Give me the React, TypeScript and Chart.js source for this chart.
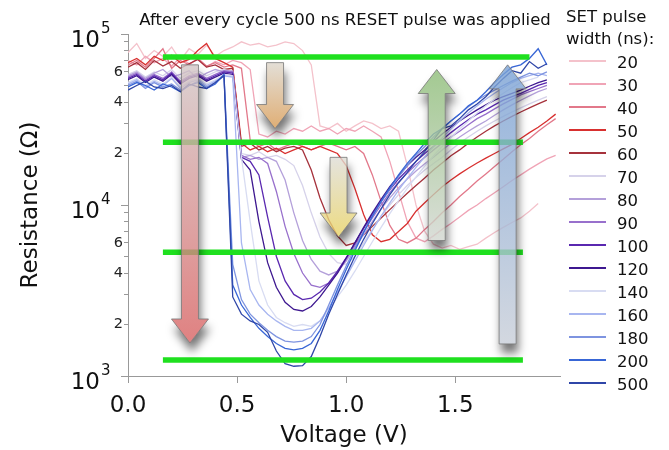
import { useEffect, useRef } from 'react';
import { Chart, registerables } from 'chart.js';

Chart.register(...registerables);

const FONT = '"DejaVu Sans", sans-serif';

// ---------- data ----------
const voltages = [0, 0.04, 0.08, 0.12, 0.16, 0.2, 0.24, 0.28, 0.32, 0.36, 0.4, 0.44, 0.48, 0.52, 0.56, 0.6, 0.64, 0.68, 0.72, 0.76, 0.8, 0.84, 0.88, 0.92, 0.96, 1.0, 1.04, 1.08, 1.12, 1.16, 1.2, 1.24, 1.28, 1.32, 1.36, 1.4, 1.44, 1.48, 1.52, 1.56, 1.6, 1.64, 1.68, 1.72, 1.76, 1.8, 1.84, 1.88, 1.92, 1.96];

const pulseWidths = ['20', '30', '40', '50', '60', '70', '80', '90', '100', '120', '140', '160', '180', '200', '500'];

const seriesColors = ['#f4c2cb', '#f0a4b6', '#e2788a', '#d8302f', '#a6323c', '#d6d2ea', '#b4a0da', '#9870cc', '#5a28b0', '#3e1890', '#d8dcf2', '#a8b6f0', '#7e94e0', '#3866d6', '#2f46a8'];

// resistance in kOhm, one value per voltage
const r20 = [78, 88, 72, 80, 74, 84, 70, 82, 76, 86, 74, 80, 84, 90, 86, 88, 84, 86, 90, 88, 80, 66, 29, 28, 30, 27, 29, 31, 30, 28, 29, 27, 17, 10, 7, 5.9, 5.6, 5.8, 5.5, 5.7, 5.9, 6.4, 6.9, 7.4, 7.9, 8.4, 9.2, 10.2, null, null];
const r30 = [70, 66, 74, 68, 72, 65, 73, 67, 71, 64, 69, 66, 70, 68, 62, 26, 25, 27, 26, 28, 27, 29, 27, 28, 26, 28, 27, 29, 27, 25, 18, 12, 8, 6.4, 6.1, 6.6, 7.2, 7.8, 8.5, 9.3, 10, 10.9, 11.8, 12.8, 13.9, 15, 16.2, 17.4, 18.6, 19.5];
const r40 = [66, 70, 64, 72, 82, 63, 70, 66, 72, 65, 68, 64, 66, 63, 24, 22, 23, 21, 22, 23, 22, 21, 22, 23, 22, 21, 22, 20, 15, 10.5, 7.6, 6.3, 6.0, 6.4, 7.2, 8.0, 9.0, 10.0, 11.2, 12.4, 13.8, 15.2, 16.8, 18.5, 20.5, 22.5, 24.5, 27, 29.5, 32];
const r50 = [68, 72, 66, 74, 70, 75, 68, 71, 80, 88, 72, 68, 64, 23, 21, 22, 20.5, 21.5, 20, 21, 22, 21, 22, 21, 20, 17, 12.5, 8.8, 6.7, 6.1, 6.3, 7.0, 7.8, 9.2, 10.3, 11.5, 12.8, 14, 15.2, 16.4, 17.6, 18.8, 20, 21.3, 22.6, 24.5, 26.5, 28.5, 31, 34];
const r60 = [64, 68, 62, 70, 65, 69, 63, 67, 71, 64, 66, 62, 63, 22, 23, 21, 22, 20.5, 21.5, 22, 21, 16, 11, 8.2, 6.6, 5.8, 6.0, 6.7, 7.5, 8.4, 9.4, 10.5, 11.7, 13, 14.4, 16, 17.6, 19.4, 21, 23, 25, 27, 29, 31, 33, 35, 37, 39, 41, null];
const p70 = [58, 61, 56, 60, 57, 62, 55, 59, 61, 57, 60, 62, 60, 20, 19.5, 20.5, 19, 19.5, 18.5, 17, 13, 9, 6.5, 5.2, 4.6, 4.5, 5.0, 6.0, 7.2, 8.6, 10, 11.5, 13, 14.5, 16, 17.5, 19, 21, 23, 25, 27, 29, 31, 33, 35, 37, 39, 41, 43, null];
const p80 = [57, 60, 55, 59, 62, 56, 58, 61, 55, 59, 62, 60, 61, 19, 19.5, 18.5, 19, 18, 14, 9, 6.2, 4.8, 4.1, 3.9, 4.1, 4.7, 5.6, 6.7, 8.0, 9.5, 11, 12.6, 14.2, 15.8, 17.4, 19, 21, 23, 25, 27, 29, 31, 33.5, 36, 38.5, 41, 43.5, 46, 48, null];
const p90 = [56, 59, 54, 58, 55, 60, 53, 57, 59, 55, 58, 61, 60, 19.5, 18.5, 19, 17.5, 12, 7.5, 5.2, 4.0, 3.4, 3.3, 3.5, 4.0, 4.8, 5.8, 7.0, 8.4, 10, 11.8, 13.6, 15.4, 17.2, 19, 21, 23, 25, 27, 29.5, 32, 34, 36.5, 39, 41.5, 44, 46, 48, 50, null];
const p100 = [55, 58, 53, 57, 54, 59, 52, 56, 58, 54, 57, 60, 59, 19, 18, 15, 8.5, 5.0, 3.6, 3.0, 2.8, 2.85, 3.1, 3.5, 4.1, 4.9, 6, 7.3, 8.8, 10.5, 12.3, 14.2, 16, 18, 20, 22, 24, 26.5, 29, 31.5, 34, 36, 38.5, 41, 43, 45, 47.5, 50, 52, null];
const p120 = [54, 57, 52, 56, 53, 58, 51, 55, 57, 53, 56, 59, 58, 18.5, 16, 8, 4.6, 3.3, 2.7, 2.45, 2.4, 2.55, 2.9, 3.4, 4.0, 4.9, 6, 7.4, 9, 10.8, 12.8, 14.8, 17, 19, 21, 23.5, 26, 28.5, 31, 33.5, 36, 38.5, 41, 43, 45, 47, 49.5, 52, 54, null];
const b140 = [52, 55, 50, 54, 51, 56, 49, 53, 55, 51, 54, 58, 57, 19, 8, 3.6, 2.6, 2.2, 2.05, 1.95, 2.0, 1.95, 2.1, 2.4, 2.9, 3.4, 4.1, 5.0, 6.1, 7.4, 8.9, 10.6, 12.5, 14.6, 16.9, 19.4, 22, 24.8, 27.8, 31, 34.5, 38, 41.5, 45, 48.5, 52, 54, 56, null, null];
const b160 = [51, 54, 49, 53, 50, 55, 48, 52, 54, 50, 53, 57, 56, 6, 3.2, 2.6, 2.3, 2.1, 1.95, 1.85, 1.85, 1.9, 2.1, 2.5, 3.1, 3.8, 4.7, 5.8, 7.1, 8.6, 10.3, 12.2, 14.3, 16.6, 19.1, 21.8, 24.7, 27.8, 31, 34.5, 38, 41.5, 45, 48.5, 52, 55, 57, 59, 57, null];
const b180 = [50, 53, 48, 52, 49, 51, 47, 50, 53, 49, 52, 57, 4.5, 2.8, 2.3, 2.05, 1.85, 1.7, 1.6, 1.58, 1.6, 1.7, 2.0, 2.6, 3.4, 4.4, 5.6, 7.0, 8.6, 10.4, 12.4, 14.6, 17, 19.5, 22, 25, 28, 31, 34, 37.5, 41, 44, 47, 50, 53, 56, 59, 57, 60, null];
const b200 = [49, 52, 50, 47, 51, 49, 46, 50, 52, 48, 51, 58, 3.4, 2.6, 2.2, 1.9, 1.7, 1.55, 1.45, 1.42, 1.45, 1.55, 1.85, 2.4, 3.2, 4.2, 5.4, 6.9, 8.6, 10.5, 12.6, 15, 17.5, 20, 23, 26, 28, 31, 34, 38, 41, 46, 52, 58, 64, 66, 72, 82, 66, null];
const b500 = [47, 50, 53, 49, 48, 50, 46, 51, 49, 48, 52, 57, 2.9, 2.3, 2.1, 2.0, 1.8, 1.4, 1.18, 1.14, 1.15, 1.3, 1.7, 2.3, 3.0, 3.9, 5.0, 6.3, 7.8, 9.5, 11.5, 13.5, 15.5, 18, 20.5, 24, 28, 29, 32, 36, 39, 43, 49, 55, 61, 59, 69, 63, 67, null];

const seriesValues = [r20, r30, r40, r50, r60, p70, p80, p90, p100, p120, b140, b160, b180, b200, b500];

// green reference levels (Ohm) and their voltage extents
const greenLevels = [73300, 23300, 5300, 1240];
const greenStartV = [0.16, 0.16, 0.16, 0.16];
const greenEndV = [1.84, 1.81, 1.81, 1.81];

// annotation arrows (voltage, tail resistance, tip resistance)
const arrowV = [0.284, 0.674, 0.965, 1.415, 1.74];
const arrowTailR = [66000, 68000, 19000, 6200, 1540];
const arrowTipR = [1560, 28000, 6500, 62000, 66000];
const arrowTailColors = ['#d2c6c6', '#dcd6cc', '#dedcd6', '#d2d6d0', '#c8ced8'];
const arrowTipColors = ['#d86262', '#d89a52', '#e8d262', '#8cbc76', '#78a0d4'];

// ticks
const xTickValues = [0, 0.5, 1.0, 1.5];
const yTickValues = [1000, 2000, 3000, 4000, 5000, 6000, 7000, 8000, 9000, 10000, 20000, 30000, 40000, 50000, 60000, 70000, 80000, 90000, 100000];
const yTickLabels = ['', '2', '', '4', '', '6', '', '', '', '', '2', '', '4', '', '6', '', '', '', ''];
const yMajorValues = [1000, 10000, 100000];
const yMajorExp = ['3', '4', '5'];

const chartTitle = 'After every cycle 500 ns RESET pulse was applied';
const legendTitle = ['SET pulse', 'width (ns):'];

// ---------- drawing helpers ----------
const SHAFT_HALF = 8.5;
const HEAD_HALF = 18.5;
const HEAD_LEN = 24;

function arrowPath(ctx: CanvasRenderingContext2D, x: number, yTail: number, yTip: number) {
  const dir = yTip > yTail ? 1 : -1;
  const hb = yTip - dir * HEAD_LEN;
  ctx.moveTo(x - SHAFT_HALF, yTail);
  ctx.lineTo(x + SHAFT_HALF, yTail);
  ctx.lineTo(x + SHAFT_HALF, hb);
  ctx.lineTo(x + HEAD_HALF, hb);
  ctx.lineTo(x, yTip);
  ctx.lineTo(x - HEAD_HALF, hb);
  ctx.lineTo(x - SHAFT_HALF, hb);
  ctx.closePath();
}

const decorPlugin = {
  id: 'decor',
  afterDatasetsDraw(chart: any) {
    const ctx: CanvasRenderingContext2D = chart.ctx;
    const xs = chart.scales.x;
    const ys = chart.scales.y;
    arrowV.forEach((v, k) => {
      const x = xs.getPixelForValue(v);
      const yTail = ys.getPixelForValue(arrowTailR[k]);
      const yTip = ys.getPixelForValue(arrowTipR[k]);
      // shadow (outside arrow only)
      ctx.save();
      ctx.beginPath();
      ctx.rect(0, 0, chart.width, chart.height);
      arrowPath(ctx, x, yTail, yTip);
      ctx.clip('evenodd');
      ctx.filter = 'blur(5px)';
      ctx.fillStyle = 'rgba(0,0,0,0.55)';
      ctx.beginPath();
      arrowPath(ctx, x + 2, yTail + 9, yTip + 9);
      ctx.fill();
      ctx.restore();
      // arrow body
      ctx.save();
      const g = ctx.createLinearGradient(x, yTail, x, yTip);
      g.addColorStop(0, arrowTailColors[k]);
      g.addColorStop(1, arrowTipColors[k]);
      ctx.globalAlpha = 0.8;
      ctx.fillStyle = g;
      ctx.beginPath();
      arrowPath(ctx, x, yTail, yTip);
      ctx.fill();
      ctx.globalAlpha = 0.9;
      ctx.strokeStyle = 'rgba(120,120,120,0.9)';
      ctx.lineWidth = 1;
      ctx.stroke();
      ctx.restore();
    });
  },
  afterDraw(chart: any) {
    const ctx: CanvasRenderingContext2D = chart.ctx;
    const ys = chart.scales.y;
    const area = chart.chartArea;
    ctx.save();
    // title
    ctx.fillStyle = '#111';
    ctx.font = `16.5px ${FONT}`;
    ctx.textAlign = 'center';
    ctx.textBaseline = 'alphabetic';
    ctx.fillText(chartTitle, 345, 25);
    // legend title
    ctx.textAlign = 'left';
    ctx.fillText(legendTitle[0], 566, 22);
    ctx.fillText(legendTitle[1], 566, 43.5);
    // legend items
    const sets = chart.data.datasets.filter((d: any) => d.label);
    sets.forEach((d: any, k: number) => {
      const y = 61 + 23 * k;
      ctx.strokeStyle = d.borderColor;
      ctx.lineWidth = 2;
      ctx.beginPath();
      ctx.moveTo(569, y);
      ctx.lineTo(606, y);
      ctx.stroke();
      ctx.fillStyle = '#111';
      ctx.font = `16.5px ${FONT}`;
      ctx.fillText(d.label, 617, y + 7.3);
    });
    // major y labels 10^n
    yMajorValues.forEach((v, k) => {
      const y = ys.getPixelForValue(v);
      ctx.strokeStyle = '#999';
      ctx.lineWidth = 1;
      ctx.beginPath();
      ctx.moveTo(area.left - 7, Math.round(y) + 0.5);
      ctx.lineTo(area.left, Math.round(y) + 0.5);
      ctx.stroke();
      ctx.fillStyle = '#111';
      ctx.font = `23px ${FONT}`;
      ctx.textAlign = 'right';
      ctx.fillText('10', 100, y + 13);
      ctx.font = `15px ${FONT}`;
      ctx.textAlign = 'left';
      ctx.fillText(yMajorExp[k], 101, y - 1);
    });
    ctx.restore();
  },
};

export default function App() {
  const ref = useRef<HTMLCanvasElement>(null);
  useEffect(() => {
    document.body.style.margin = '0';
    const canvas = ref.current;
    if (!canvas) return;

    const curveDatasets = pulseWidths.map((label, k) => ({
      label,
      data: voltages
        .map((v, i) => ({ x: v, y: seriesValues[k][i] == null ? null : (seriesValues[k][i] as number) * 1000 }))
        .filter((p) => p.y !== null),
      borderColor: seriesColors[k],
      backgroundColor: seriesColors[k],
      borderWidth: 1.3,
      pointRadius: 0,
      tension: 0,
      fill: false,
      order: pulseWidths.length - k,
    }));

    const greenDatasets = greenLevels.map((lvl, j) => ({
      label: '',
      data: [
        { x: greenStartV[j], y: lvl },
        { x: greenEndV[j], y: lvl },
      ],
      borderColor: '#1fe01f',
      borderWidth: 5.5,
      borderCapStyle: 'butt' as const,
      pointRadius: 0,
      fill: false,
      order: 0,
    }));

    const chart = new Chart(canvas, {
      type: 'line',
      data: { datasets: [...curveDatasets, ...greenDatasets] as any },
      options: {
        responsive: false,
        animation: false,
        events: [],
        layout: { padding: { top: 34, right: 109, bottom: 0, left: 0 } },
        plugins: {
          legend: { display: false },
          tooltip: { enabled: false },
          title: { display: false },
        },
        scales: {
          x: {
            type: 'linear',
            min: 0,
            max: 1.98,
            afterBuildTicks: (s: any) => {
              s.ticks = xTickValues.map((v) => ({ value: v }));
            },
            afterFit: (s: any) => {
              s.height = 74;
            },
            ticks: {
              autoSkip: false,
              maxRotation: 0,
              padding: 9,
              color: '#111',
              font: { family: FONT, size: 23 },
              callback: (v: any) => Number(v).toFixed(1),
            },
            grid: { display: true, drawOnChartArea: false, drawTicks: true, tickLength: 7, tickColor: '#999', color: '#999' },
            border: { display: true, color: '#999', width: 1 },
            title: {
              display: true,
              text: 'Voltage (V)',
              color: '#111',
              font: { family: FONT, size: 23 },
              padding: { top: 0, bottom: 0 },
            },
          },
          y: {
            type: 'logarithmic',
            min: 1000,
            max: 100000,
            afterBuildTicks: (s: any) => {
              s.ticks = yTickValues.map((v) => ({ value: v, major: yMajorValues.includes(v) }));
            },
            afterFit: (s: any) => {
              s.width = 128;
            },
            ticks: {
              autoSkip: false,
              padding: 1,
              color: '#222',
              font: { family: FONT, size: 14.5 },
              callback: (_v: any, i: number) => yTickLabels[i],
            },
            grid: { display: true, drawOnChartArea: false, drawTicks: true, tickLength: 4, tickColor: '#999', color: '#999' },
            border: { display: true, color: '#999', width: 1 },
            title: {
              display: true,
              text: 'Resistance (Ω)',
              color: '#111',
              font: { family: FONT, size: 23 },
              padding: { top: 17, bottom: 0 },
            },
          },
        },
      },
      plugins: [decorPlugin],
    });
    return () => chart.destroy();
  }, []);

  return <canvas ref={ref} width={669} height={450} style={{ display: 'block', width: 669, height: 450 }} />;
}
